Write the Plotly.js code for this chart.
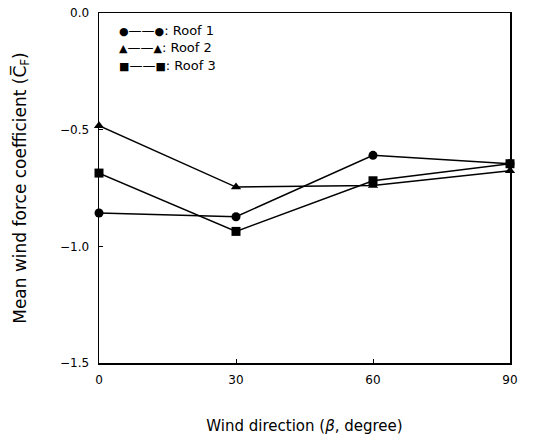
<!DOCTYPE html>
<html><head><meta charset="utf-8">
<script src="https://cdn.plot.ly/plotly-3.0.1.min.js"></script>
<style>html,body{margin:0;padding:0;background:#fff}#chart{width:549px;height:435px}</style>
</head><body><div id="chart"></div>
<script>
const windDirection = [0, 30, 60, 90];
const roof1 = [-0.857, -0.873, -0.610, -0.646];
const roof2 = [-0.483, -0.746, -0.739, -0.676];
const roof3 = [-0.686, -0.936, -0.719, -0.646];
const seriesNames = ['Roof 1', 'Roof 2', 'Roof 3'];
const seriesSymbols = ['circle', 'triangle-up', 'square'];
const legendGlyphs = ['\u25CF', '\u25B2', '\u25A0'];
const xTicks = [0, 30, 60, 90];
const yTicks = [0, -0.5, -1.0, -1.5];
const yTickText = ['0.0', '\u22120.5', '\u22121.0', '\u22121.5'];

const series = [roof1, roof2, roof3];
const traces = series.map((ys, i) => ({
  x: windDirection, y: ys, type: 'scatter', mode: 'lines+markers',
  name: seriesNames[i], showlegend: false, cliponaxis: false,
  line: {color: '#000', width: 1.5},
  marker: {symbol: seriesSymbols[i], size: 9, color: '#000'}
}));

const fontFam = 'DejaVu Sans, Verdana, sans-serif';
const annotations = seriesNames.map((n, i) => ({
  xref: 'paper', yref: 'paper', x: 0.045, y: 0.951 - i * 0.05,
  xanchor: 'left', yanchor: 'middle', showarrow: false,
  text: '<span style="font-size:11px">' + legendGlyphs[i] + '</span>\u2014\u2014<span style="font-size:11px">' + legendGlyphs[i] + '</span>: ' + n,
  font: {family: fontFam, size: 13, color: '#000'}
}));

const layout = {
  width: 549, height: 435,
  margin: {l: 99, r: 39, t: 13, b: 72},
  paper_bgcolor: '#fff', plot_bgcolor: '#fff',
  showlegend: false,
  font: {family: fontFam, color: '#000', size: 12},
  xaxis: {
    range: [0, 90], tickvals: xTicks, ticktext: xTicks.map(String),
    ticks: 'inside', ticklen: 4, tickwidth: 1, tickcolor: '#000',
    showline: true, linecolor: '#000', linewidth: 1.5, mirror: true,
    showgrid: false, zeroline: false, ticklabelstandoff: 5,
    tickfont: {size: 12},
    title: {text: 'Wind direction (<i>\u03B2</i>, degree)', font: {size: 15}, standoff: 34}
  },
  yaxis: {
    range: [-1.5, 0], tickvals: yTicks, ticktext: yTickText,
    ticks: 'inside', ticklen: 4, tickwidth: 1, tickcolor: '#000',
    showline: true, linecolor: '#000', linewidth: 1.5, mirror: true,
    showgrid: false, zeroline: false, ticklabelstandoff: 6,
    tickfont: {size: 12},
    title: {text: 'Mean wind force coefficient (C\u0305<sub>F</sub>)', font: {size: 17}, standoff: 29}
  },
  annotations: annotations
};

Plotly.newPlot('chart', traces, layout, {displayModeBar: false, staticPlot: true});
</script></body></html>
